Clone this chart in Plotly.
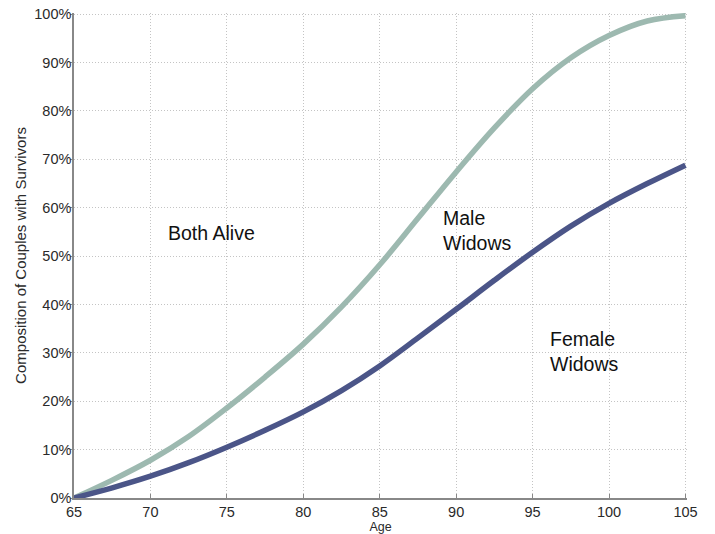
import plotly.graph_objects as go

age = [65, 67.5, 70, 72.5, 75, 77.5, 80, 82.5, 85, 87.5, 90, 92.5, 95, 97.5, 100, 102.5, 105]
both_alive_upper = [0, 3.7, 7.8, 12.7, 18.6, 25.0, 31.8, 39.5, 48.2, 57.8, 67.4, 76.5, 84.6, 91.0, 95.6, 98.6, 99.7]
female_widows_upper = [0, 2.1, 4.5, 7.3, 10.5, 14.0, 17.8, 22.2, 27.3, 33.1, 39.0, 45.0, 50.8, 56.2, 60.9, 65.0, 68.8]

x_ticks = [65, 70, 75, 80, 85, 90, 95, 100, 105]
y_ticks = [0, 10, 20, 30, 40, 50, 60, 70, 80, 90, 100]
y_tick_labels = [f"{v}%" for v in y_ticks]

region_labels = ["Both Alive", "Male<br>Widows", "Female<br>Widows"]
label_x = [71.0, 89.0, 96.0]
label_y = [54.8, 55.2, 30.2]

FONT = "Liberation Sans, Arial, sans-serif"

fig = go.Figure()
fig.add_trace(go.Scatter(x=age, y=both_alive_upper, mode="lines",
                         line=dict(color="#9DB9B0", width=5.5, shape="spline"),
                         showlegend=False, hoverinfo="skip"))
fig.add_trace(go.Scatter(x=age, y=female_widows_upper, mode="lines",
                         line=dict(color="#4B5588", width=5.5, shape="spline"),
                         showlegend=False, hoverinfo="skip"))

for t, x, y in zip(region_labels, label_x, label_y):
    fig.add_annotation(x=x, y=y, text=t, showarrow=False, xanchor="left",
                       align="left", font=dict(size=19.5, color="#111111", family=FONT))

fig.update_layout(
    width=715, height=534,
    margin=dict(l=74, r=28, t=13, b=36),
    plot_bgcolor="white", paper_bgcolor="white",
    font=dict(family=FONT, color="#2a2a2a", size=14.5),
)
fig.update_xaxes(range=[65, 105.1], tickvals=x_ticks, ticks="inside", ticklen=4,
                 tickcolor="#888888", showline=True, linecolor="#888888", linewidth=1.5,
                 showgrid=True, gridcolor="#c4c4c4", griddash="1px,2px", gridwidth=1,
                 zeroline=False, automargin=False,
                 title=dict(text="Age", standoff=0, font=dict(size=12.5)),
                 tickfont=dict(size=14.5))
fig.update_yaxes(range=[0, 100.25], tickvals=y_ticks, ticktext=y_tick_labels, ticks="outside",
                 ticklen=2, tickcolor="#888888", showline=True, linecolor="#888888", linewidth=1.5,
                 showgrid=True, gridcolor="#c4c4c4", griddash="1px,2px", gridwidth=1,
                 zeroline=False, automargin=False, ticklabelstandoff=-4,
                 ticklabeloverflow="allow",
                 title=dict(text="Composition of Couples with Survivors", standoff=4, font=dict(size=15)),
                 tickfont=dict(size=14.5))

# remove the page's default body margin so the figure sits at the window's corner
fig.write_html("out.html", config={"displayModeBar": False},
               post_script="document.body.style.margin='0';")
